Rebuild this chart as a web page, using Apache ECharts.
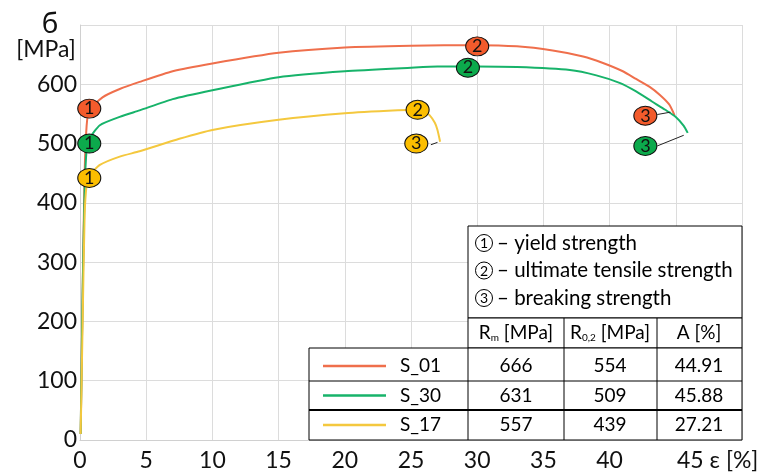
<!DOCTYPE html>
<html>
<head>
<meta charset="utf-8">
<script src="https://cdn.jsdelivr.net/npm/echarts@6/dist/echarts.min.js"></script>
<style>
  html, body { margin: 0; padding: 0; background: #fff; }
  #chart { width: 758px; height: 473px; }
</style>
</head>
<body>
<div id="chart"></div>
<script>
// stress-strain curves, [strain %, stress MPa]
const s01 = [[0.05, 10], [0.2, 250], [0.35, 450], [0.5, 530], [0.7, 556], [1.7, 578], [3, 592], [4.5, 604],
  [7, 622], [10, 635], [15, 653], [20, 662], [25, 665], [30, 666], [33, 664], [35.7, 657], [38, 647],
  [39.5, 636], [41, 622], [42, 609], [43, 596], [43.8, 582], [44.5, 566], [44.9, 548]];
const s30 = [[0.05, 10], [0.2, 250], [0.35, 420], [0.5, 490], [0.7, 508], [1.5, 531], [3, 545], [4.5, 556],
  [7, 575], [10, 590], [15, 612], [20, 622], [25, 628], [27, 630], [30, 630], [33, 629], [37, 624],
  [39, 615], [40.8, 602], [42, 588], [43.2, 571], [44.2, 557], [45, 545], [45.6, 530], [45.9, 518]];
const s17 = [[0.05, 10], [0.2, 200], [0.35, 380], [0.5, 430], [0.7, 445], [1.5, 464], [3, 478], [4.5, 487],
  [7.5, 508], [10, 523], [15, 540], [20, 551], [24, 556], [25.5, 557], [26, 554], [26.4, 548],
  [26.8, 535], [27.0, 523], [27.2, 503]];

// numbered points: [x, y, label]
const pts01 = [[0.7, 559, '1'], [30.0, 664, '2'], [42.7, 547, '3']];
const pts30 = [[0.7, 500, '1'], [29.3, 628, '2'], [42.7, 496, '3']];
const pts17 = [[0.7, 442, '1'], [25.5, 557, '2'], [25.4, 500, '3']];

// short leader lines from point 3 to curve end
const lead01 = [[43.6, 549], [44.6, 553]];
const lead30 = [[43.6, 496], [45.6, 514]];
const lead17 = [[26.5, 498], [27.0, 502]];

const names = ['S_01', 'S_30', 'S_17'];
const lineColors = ['#EF6F4C', '#17B36A', '#F4C83E'];
const dotColors = ['#F35B2C', '#0CAA4C', '#FCBE00'];
const rm = ['666', '631', '557'];
const r02 = ['554', '509', '439'];
const elong = ['44.91', '45.88', '27.21'];
const legendTexts = ['yield strength', 'ultimate tensile strength', 'breaking strength'];

const font = 'Lato, "Open Sans", sans-serif';
const ellipse = 'path://M0,10A10,10,0,1,1,20,10A10,10,0,1,1,0,10Z';

const curves = [s01, s30, s17];
const points = [pts01, pts30, pts17];
const leads = [lead01, lead30, lead17];

const series = [];
curves.forEach(function (c, i) {
  series.push({
    type: 'line', name: names[i], data: c, showSymbol: false, smooth: 0.2,
    lineStyle: { color: lineColors[i], width: 2 }, z: 2, silent: true
  });
  series.push({
    type: 'line', data: leads[i], showSymbol: false,
    lineStyle: { color: '#222', width: 1 }, z: 3, silent: true
  });
  series.push({
    type: 'scatter', data: points[i], symbol: ellipse, symbolSize: [23, 19],
    itemStyle: { color: dotColors[i], borderColor: '#111', borderWidth: 1, opacity: 1 },
    label: {
      show: true, position: 'inside', color: '#111', fontSize: 18, fontFamily: font,
      formatter: function (p) { return p.value[2]; }
    },
    z: 5, silent: true
  });
});

// table graphic
const g = [];
const T = { l0: 309, l1: 468, c1: 564, c2: 657, r: 742, top: 226, hTop: 318, hBot: 348 };
const tf = '19px ' + font;
g.push({ type: 'rect', shape: { x: T.l1, y: T.top, width: T.r - T.l1, height: T.hTop - T.top }, style: { fill: '#fff', stroke: '#000', lineWidth: 1 } });
legendTexts.forEach(function (t, i) {
  const cy = 243 + i * 27.5;
  g.push({ type: 'circle', shape: { cx: 484, cy: cy, r: 8.5 }, style: { fill: '#fff', stroke: '#000', lineWidth: 1 } });
  g.push({ type: 'text', x: 484, y: cy + 0.5, style: { text: String(i + 1), font: '14px ' + font, fill: '#000', align: 'center', verticalAlign: 'middle' } });
  g.push({ type: 'text', x: 497, y: cy, style: { text: '\u2013 ' + t, font: '20.5px ' + font, fill: '#000', verticalAlign: 'middle' } });
});
g.push({ type: 'rect', shape: { x: T.l1, y: T.hTop, width: T.r - T.l1, height: T.hBot - T.hTop }, style: { fill: '#fff', stroke: '#000', lineWidth: 1 } });
g.push({ type: 'rect', shape: { x: T.l0, y: T.hBot, width: T.r - T.l0, height: 440 - T.hBot }, style: { fill: '#fff', stroke: '#000', lineWidth: 1 } });
[381, 410].forEach(function (y, k) {
  g.push({ type: 'line', shape: { x1: T.l0, y1: y, x2: T.r, y2: y }, style: { stroke: '#000', lineWidth: k === 1 ? 2 : 1 } });
});
[T.l1, T.c1, T.c2].forEach(function (x) {
  g.push({ type: 'line', shape: { x1: x, y1: x === T.l1 ? T.hBot : T.hTop, x2: x, y2: 440 }, style: { stroke: '#000', lineWidth: 1 } });
});
const hdrY = 333;
const rich = { a: { fontSize: 19, fontFamily: font, fill: '#000' }, s: { fontSize: 10, fontFamily: font, fill: '#000', verticalAlign: 'bottom', padding: [7, 0, 0, 0] } };
g.push({ type: 'text', x: 516, y: hdrY, style: { text: '{a|R}{s|m}{a| [MPa]}', rich: rich, align: 'center', verticalAlign: 'middle' } });
g.push({ type: 'text', x: 610, y: hdrY, style: { text: '{a|R}{s|0,2}{a| [MPa]}', rich: rich, align: 'center', verticalAlign: 'middle' } });
g.push({ type: 'text', x: 699, y: hdrY, style: { text: 'A [%]', font: tf, fill: '#000', align: 'center', verticalAlign: 'middle' } });
const rowY = [366, 395.5, 425];
names.forEach(function (n, i) {
  const y = rowY[i];
  g.push({ type: 'line', shape: { x1: 323, y1: y, x2: 386, y2: y }, style: { stroke: lineColors[i], lineWidth: 2.5 } });
  g.push({ type: 'text', x: 400, y: y, style: { text: n, font: tf, fill: '#000', verticalAlign: 'middle' } });
  g.push({ type: 'text', x: 516, y: y, style: { text: rm[i], font: tf, fill: '#000', align: 'center', verticalAlign: 'middle' } });
  g.push({ type: 'text', x: 610, y: y, style: { text: r02[i], font: tf, fill: '#000', align: 'center', verticalAlign: 'middle' } });
  g.push({ type: 'text', x: 699, y: y, style: { text: elong[i], font: tf, fill: '#000', align: 'center', verticalAlign: 'middle' } });
});
// axis titles
g.push({ type: 'text', x: 50, y: 24, style: { text: 'б', font: '28px ' + font, fill: '#111', align: 'center', verticalAlign: 'middle' } });
g.push({ type: 'text', x: 46, y: 50, style: { text: '[MPa]', font: '23px ' + font, fill: '#111', align: 'center', verticalAlign: 'middle' } });
g.push({ type: 'text', x: 677, y: 461, style: { text: '45 ε [%]', font: '23px ' + font, fill: '#111', verticalAlign: 'middle' } });
g.forEach(function (e) { e.z = 100; e.silent = true; });

const option = {
  animation: false,
  grid: { left: 80, right: 16, top: 25, bottom: 33 },
  xAxis: {
    type: 'value', min: 0, max: 50, interval: 5,
    axisLine: { show: true, lineStyle: { color: '#d0d0d0' } },
    axisTick: { show: false },
    splitLine: { show: true, lineStyle: { color: '#dcdcdc' } },
    axisLabel: {
      color: '#111', fontSize: 23, fontFamily: font, margin: 9,
      formatter: function (v) { return v >= 45 ? '' : String(v); }
    }
  },
  yAxis: {
    type: 'value', min: 0, max: 700, interval: 100,
    axisLine: { show: true, lineStyle: { color: '#d0d0d0' } },
    axisTick: { show: false },
    splitLine: { show: true, lineStyle: { color: '#dcdcdc' } },
    axisLabel: {
      color: '#111', fontSize: 23, fontFamily: font, margin: 3,
      formatter: function (v) { return v >= 700 ? '' : String(v); }
    }
  },
  series: series,
  graphic: g
};

const chart = echarts.init(document.getElementById('chart'));
chart.setOption(option);
</script>
</body>
</html>
